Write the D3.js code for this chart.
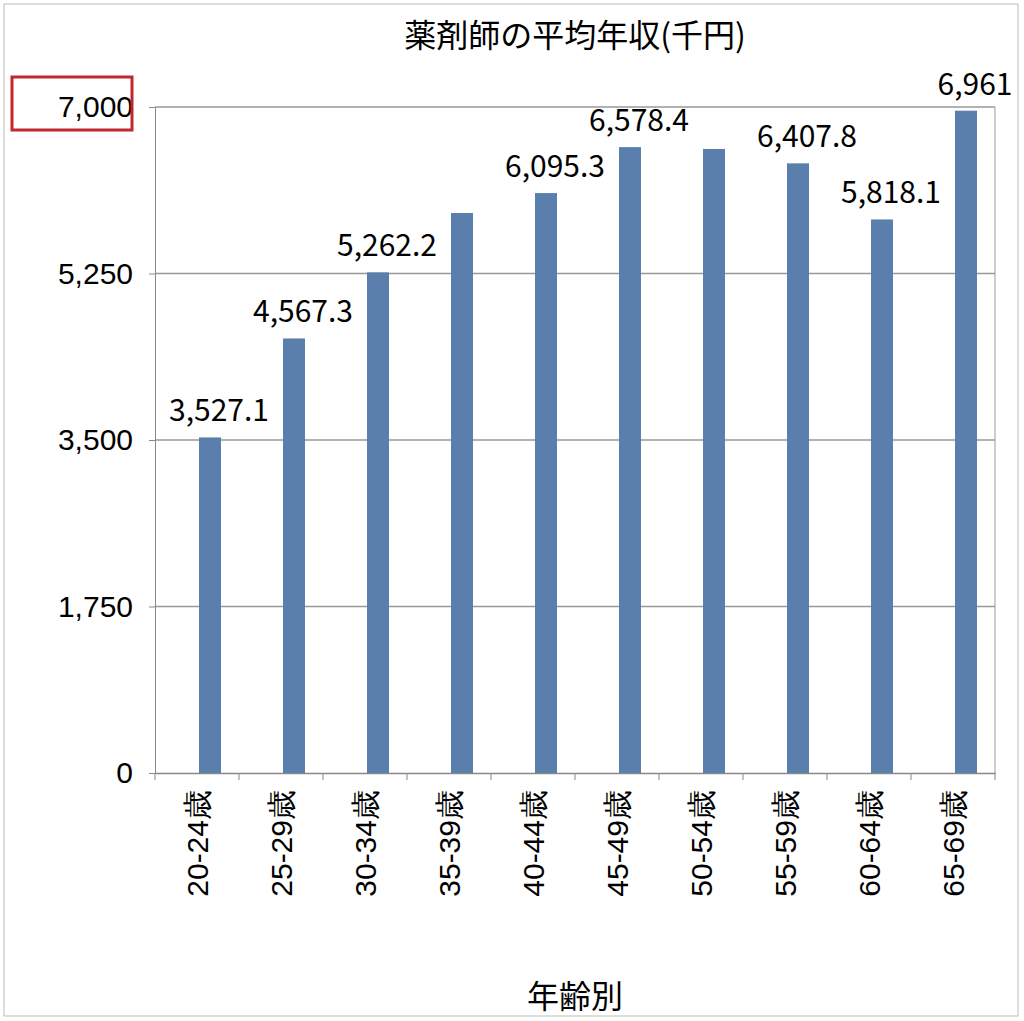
<!DOCTYPE html>
<html><head><meta charset="utf-8">
<script src="https://cdn.jsdelivr.net/npm/d3@7"></script>
<style>body{margin:0;background:#fff}svg{font-family:"Noto Sans CJK JP","Noto Sans",sans-serif}</style>
</head><body><svg id="chart" width="1024" height="1021"></svg>
<script>
var categories = ["20-24歳","25-29歳","30-34歳","35-39歳","40-44歳","45-49歳","50-54歳","55-59歳","60-64歳","65-69歳"];
var values = [3527.1, 4567.3, 5262.2, 5886, 6095.3, 6578.4, 6559, 6407.8, 5818.1, 6961];
var labels = ["3,527.1","4,567.3","5,262.2",null,"6,095.3","6,578.4",null,"6,407.8","5,818.1","6,961"];
var yTicks = [0, 1750, 3500, 5250, 7000];

var svg = d3.select("#chart");
var plotLeft = 155, plotRight = 995, plotTop = 107, plotBottom = 773;
var x = d3.scaleBand().domain(categories).range([plotLeft, plotRight]);
var y = d3.scaleLinear().domain([0, 7000]).range([plotBottom, plotTop]);

svg.append("rect").attr("x", 4).attr("y", 4).attr("width", 1014).attr("height", 1012)
  .attr("fill", "none").attr("stroke", "#bbb");

// grid
svg.append("g").selectAll("line").data(yTicks.slice(1)).join("line")
  .attr("x1", plotLeft).attr("x2", plotRight).attr("y1", d => y(d)).attr("y2", d => y(d))
  .attr("stroke", "#999").attr("stroke-width", 1.5);
svg.append("line").attr("x1", plotRight).attr("x2", plotRight).attr("y1", plotTop).attr("y2", plotBottom).attr("stroke", "#999");

// y axis
var yAxis = d3.axisLeft(y).tickValues(yTicks).tickFormat(d3.format(",")).tickSize(6);
var gy = svg.append("g").attr("transform", "translate(" + plotLeft + ",0)").call(yAxis);
gy.selectAll("text").attr("font-size", 30).attr("fill", "#000").attr("x", -22);
gy.selectAll("line,path").attr("stroke", "#888");

// x axis
var gx = svg.append("g").attr("transform", "translate(0," + plotBottom + ")")
  .call(d3.axisBottom(x).tickSize(0));
gx.select("path").attr("stroke", "#888").attr("stroke-width", 1.5);
gx.selectAll("text").attr("font-size", 30).attr("fill", "#000")
  .attr("transform", "rotate(-90)").attr("text-anchor", "end")
  .attr("x", -17).attr("y", 0).attr("dy", "0.35em");
svg.append("g").selectAll("line").data(d3.range(categories.length + 1)).join("line")
  .attr("x1", i => plotLeft + i * x.step()).attr("x2", i => plotLeft + i * x.step())
  .attr("y1", plotBottom).attr("y2", plotBottom + 7).attr("stroke", "#888");

// bars
var bw = 22;
svg.append("g").selectAll("rect").data(values).join("rect")
  .attr("x", (d, i) => x(categories[i]) + x.bandwidth() / 2 + 13 - bw / 2)
  .attr("y", d => y(d)).attr("width", bw).attr("height", d => plotBottom - y(d))
  .attr("fill", "#5b7fac");

var labelData = values.map((v, i) => ({v: v, c: categories[i], t: labels[i]})).filter(d => d.t !== null);
svg.append("g").selectAll("text").data(labelData).join("text")
  .attr("x", d => x(d.c) + x.bandwidth() / 2 + 22)
  .attr("y", d => y(d.v) - 16)
  .attr("text-anchor", "middle").attr("font-size", 30)
  .text(d => d.t);

svg.append("text").attr("x", 575).attr("y", 47).attr("text-anchor", "middle")
  .attr("font-size", 32).text("薬剤師の平均年収(千円)");
svg.append("text").attr("x", 575).attr("y", 1008).attr("text-anchor", "middle")
  .attr("font-size", 32).text("年齢別");

svg.append("rect").attr("x", 12).attr("y", 77).attr("width", 120).attr("height", 53)
  .attr("fill", "none").attr("stroke", "#c1272d").attr("stroke-width", 3);
</script></body></html>
